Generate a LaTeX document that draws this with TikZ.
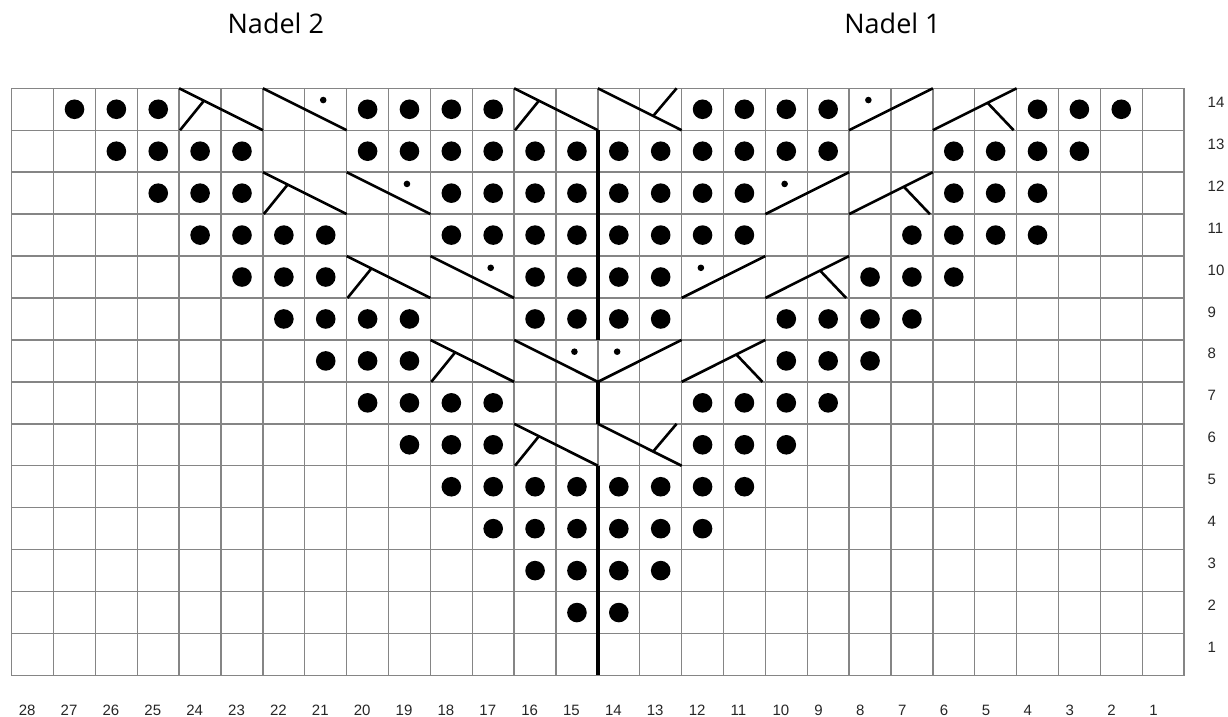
\documentclass[tikz,border=0pt]{standalone}
\usepackage{fontspec}
\newfontfamily\titlefont{Open Sans}
\newfontfamily\numfont{Liberation Sans}
% cable symbols: #1 = left column number, #2 = row number
\newcommand{\cabA}[2]{%
  \draw[cable] ({28-#1},{14-#2}) -- ({30-#1},{15-#2});
  \draw[cable] ({28-#1+0.02},{15-#2}) -- ({28-#1+0.58},{14-#2+0.31});}
\newcommand{\cabB}[2]{%
  \draw[cable] ({28-#1},{14-#2}) -- ({30-#1},{15-#2});
  \fill ({28-#1+1.44},{14-#2+0.28}) circle[radius=3.3pt];}
\newcommand{\cabBr}[2]{%
  \draw[cable] ({28-#1},{15-#2}) -- ({30-#1},{14-#2});
  \fill ({28-#1+0.46},{14-#2+0.28}) circle[radius=3.3pt];}
\newcommand{\cabC}[2]{%
  \draw[cable] ({28-#1},{14-#2}) -- ({30-#1},{15-#2});
  \draw[cable] ({28-#1+1.88},{14-#2}) -- ({28-#1+1.32},{14-#2+0.66});}
\newcommand{\cabD}[2]{%
  \draw[cable] ({28-#1},{15-#2}) -- ({30-#1},{14-#2});
  \draw[cable] ({28-#1+1.93},{15-#2}) -- ({28-#1+1.31},{14-#2+0.35});}
\begin{document}
\begin{tikzpicture}[x=1pt,y=-1pt,
  gridline/.style={draw=black!48, line width=1.4pt, line cap=rect},
  cable/.style={line width=2.6pt, line cap=butt},
  thickline/.style={line width=4.3pt},
  title/.style={font=\titlefont\fontsize{27}{32}\selectfont, anchor=base, inner sep=0pt},
  num/.style={font=\numfont\fontsize{15}{18}\selectfont, anchor=base west, inner sep=0pt, text=black!85}]
\useasboundingbox (0,0) rectangle (1228,717);
\node[title] (nadel2) at (275.8,33.3) {Nadel 2};
\node[title] (nadel1) at (892.5,33.3) {Nadel 1};
% row labels
\foreach \r in {1,...,14}
  \node[num] (row\r) at (1207.5,{107.3+(14-\r)*41.94}) {\r};
% column labels
\foreach \n in {1,...,28}
  \node[num] (col\n) at ({11.7+(28.5-\n)*41.87-14},715) {\n};
\begin{scope}[shift={(11.7pt,-88.3pt)}, x=41.87pt, y=-41.94pt]
  \foreach \i in {0,...,28} \draw[gridline] (\i,0) -- (\i,14);
  \foreach \j in {0,...,14} \draw[gridline] (0,\j) -- (28,\j);
  % purl dots
  \foreach \r/\cols in {
    14/{27,26,25,20,19,18,17,12,11,10,9,4,3,2},
    13/{26,25,24,23,20,19,18,17,16,15,14,13,12,11,10,9,6,5,4,3},
    12/{25,24,23,18,17,16,15,14,13,12,11,6,5,4},
    11/{24,23,22,21,18,17,16,15,14,13,12,11,7,6,5,4},
    10/{23,22,21,16,15,14,13,8,7,6},
    9/{22,21,20,19,16,15,14,13,10,9,8,7},
    8/{21,20,19,10,9,8},
    7/{20,19,18,17,12,11,10,9},
    6/{19,18,17,12,11,10},
    5/{18,17,16,15,14,13,12,11},
    4/{17,16,15,14,13,12},
    3/{16,15,14,13},
    2/{15,14}} {
    \foreach \n in \cols
      \fill ({28.5-\n},{14.5-\r}) circle[radius=9.8pt];
  }
  % cables
  \cabA{24}{14} \cabB{22}{14} \cabA{16}{14} \cabC{14}{14} \cabBr{8}{14} \cabD{6}{14}
  \cabA{22}{12} \cabB{20}{12} \cabBr{10}{12} \cabD{8}{12}
  \cabA{20}{10} \cabB{18}{10} \cabBr{12}{10} \cabD{10}{10}
  \cabA{18}{8} \cabB{16}{8} \cabBr{14}{8} \cabD{12}{8}
  \cabA{16}{6} \cabC{14}{6}
  % centre line
  \draw[thickline] (14,1) -- (14,6);
  \draw[thickline] (14,7) -- (14,8);
  \draw[thickline] (14,9) -- (14,14);
\end{scope}
\end{tikzpicture}
\end{document}
